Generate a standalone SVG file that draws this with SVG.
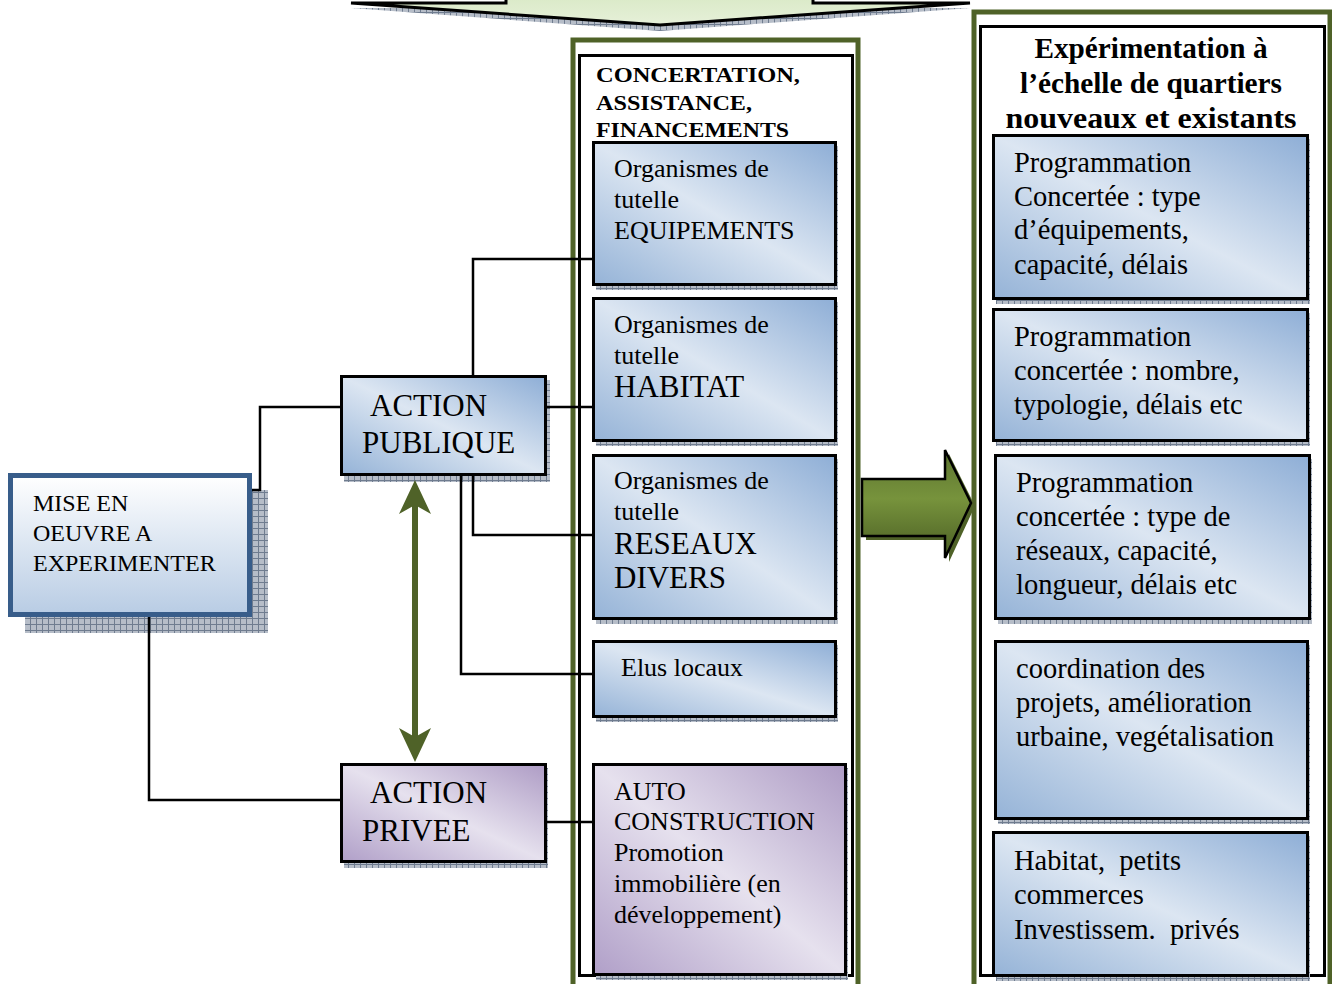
<svg xmlns="http://www.w3.org/2000/svg" width="1332" height="984" viewBox="0 0 1332 984">
<style>
text{font-family:"Liberation Serif","Times New Roman",serif;fill:#000}
.m{font-size:26px}
.b{font-size:31px}
.r{font-size:28.5px}
.mi{font-size:24px}
.h1{font-size:22px;font-weight:bold}
.h2{font-size:29px;font-weight:bold}
.box{stroke:#000;stroke-width:3}
.blue{fill:url(#gBlue)}
.purple{fill:url(#gPurple)}
.sh{fill:url(#hatch)}
.conn{fill:none;stroke:#000;stroke-width:2.5}
</style>
<defs>
<pattern id="hatch" width="6" height="6" patternUnits="userSpaceOnUse">
<rect width="6" height="6" fill="#b6bdc8"/>
<path d="M0,0.5H6M0.5,0V6" stroke="#6f7c8f" stroke-width="1"/>
</pattern>
<linearGradient id="gBlue" x1="1" y1="0" x2="0" y2="1">
<stop offset="0" stop-color="#8eaed6"/>
<stop offset="0.5" stop-color="#dce6f2"/>
<stop offset="1" stop-color="#95b3d7"/>
</linearGradient>
<linearGradient id="gPurple" x1="1" y1="0" x2="0" y2="1">
<stop offset="0" stop-color="#ae9cc5"/>
<stop offset="0.5" stop-color="#e6e1ee"/>
<stop offset="1" stop-color="#b09fc8"/>
</linearGradient>
<linearGradient id="gMise" x1="0" y1="0" x2="0" y2="1">
<stop offset="0" stop-color="#ffffff"/>
<stop offset="1" stop-color="#b8cce4"/>
</linearGradient>
<linearGradient id="gLight" x1="0" y1="0" x2="0" y2="1">
<stop offset="0" stop-color="#d3e6bd"/>
<stop offset="1" stop-color="#e6f0d9"/>
</linearGradient>
<linearGradient id="gDark" x1="0" y1="0" x2="0" y2="1">
<stop offset="0" stop-color="#5c7430"/>
<stop offset="0.45" stop-color="#77933c"/>
<stop offset="1" stop-color="#4a5e24"/>
</linearGradient>
<marker id="ga" markerUnits="userSpaceOnUse" markerWidth="34" markerHeight="34" viewBox="0 0 34 34" refX="25" refY="17" orient="auto-start-reverse">
<path d="M0,1 L34,17 L0,33 L9,17 Z" fill="#4f6228"/>
</marker>
</defs>

<g id="top-arrow">
<polygon points="506,-20 506,8 351,8 660,31 970,8 813,8 813,-20" class="sh"/>
<polygon points="506,-20 506,3 351,3 660,25 970,3 813,3 813,-20" fill="url(#gLight)" stroke="#000" stroke-width="3"/>
</g>

<g id="col-middle">
<rect x="573" y="40" width="285" height="960" fill="#fff" stroke="#4f6228" stroke-width="5"/>
<rect x="579.5" y="55.5" width="273" height="920" fill="none" stroke="#000" stroke-width="3"/>
<text class="h1" x="596" y="82" textLength="204" lengthAdjust="spacingAndGlyphs">CONCERTATION,</text>
<text class="h1" x="596" y="110" textLength="156" lengthAdjust="spacingAndGlyphs">ASSISTANCE,</text>
<text class="h1" x="596" y="137" textLength="193" lengthAdjust="spacingAndGlyphs">FINANCEMENTS</text>
</g>

<g id="col-right">
<rect x="974" y="12" width="356" height="990" fill="#fff" stroke="#4f6228" stroke-width="5"/>
<rect x="980.5" y="26.5" width="344" height="949" fill="none" stroke="#000" stroke-width="3"/>
<text class="h2" x="1151" y="58" text-anchor="middle" textLength="233" lengthAdjust="spacingAndGlyphs">Expérimentation à</text>
<text class="h2" x="1151" y="93" text-anchor="middle" textLength="262" lengthAdjust="spacingAndGlyphs">l’échelle de quartiers</text>
<text class="h2" x="1151" y="128" text-anchor="middle" textLength="291" lengthAdjust="spacingAndGlyphs">nouveaux et existants</text>
</g>

<g id="green-arrow">
<polygon points="866,483 949,483 949,454 975,506 949,562 949,540 866,540" fill="#4f6228"/>
<polygon points="862,479 945,479 945,450 971,503 945,558 945,536 862,536" fill="url(#gDark)" stroke="#000" stroke-width="2.5"/>
</g>

<g id="mise">
<rect x="25" y="490" width="243" height="143" class="sh"/>
<rect x="10.5" y="475.5" width="239" height="139" fill="url(#gMise)" stroke="#385d8a" stroke-width="5"/>
<text class="mi" x="33" y="511">MISE EN</text>
<text class="mi" x="33" y="541">OEUVRE A</text>
<text class="mi" x="33" y="571">EXPERIMENTER</text>
</g>

<g id="action-publique">
<rect x="344" y="380" width="206" height="102" class="sh"/>
<rect x="341.5" y="376.5" width="204" height="98" class="box blue"/>
<text class="b" x="370" y="416">ACTION</text>
<text class="b" x="362" y="453">PUBLIQUE</text>
</g>

<g id="action-privee">
<rect x="344" y="768" width="204" height="100" class="sh"/>
<rect x="341.5" y="764.5" width="204" height="97" class="box purple"/>
<text class="b" x="370" y="803">ACTION</text>
<text class="b" x="362" y="841">PRIVEE</text>
</g>

<g id="equipements">
<rect x="596" y="146" width="242" height="144" class="sh"/>
<rect x="593.5" y="142.5" width="242" height="142" class="box blue"/>
<text class="m" x="614" y="177">Organismes de</text>
<text class="m" x="614" y="208">tutelle</text>
<text class="m" x="614" y="239">EQUIPEMENTS</text>
</g>

<g id="habitat">
<rect x="596" y="302" width="242" height="144" class="sh"/>
<rect x="593.5" y="298.5" width="242" height="142" class="box blue"/>
<text class="m" x="614" y="333">Organismes de</text>
<text class="m" x="614" y="364">tutelle</text>
<text class="b" x="614" y="397">HABITAT</text>
</g>

<g id="reseaux">
<rect x="596" y="459" width="242" height="165" class="sh"/>
<rect x="593.5" y="455.5" width="242" height="163" class="box blue"/>
<text class="m" x="614" y="489">Organismes de</text>
<text class="m" x="614" y="520">tutelle</text>
<text class="b" x="614" y="554">RESEAUX</text>
<text class="b" x="614" y="588">DIVERS</text>
</g>

<g id="elus">
<rect x="596" y="645" width="242" height="77" class="sh"/>
<rect x="593.5" y="641.5" width="242" height="75" class="box blue"/>
<text class="m" x="621" y="676">Elus locaux</text>
</g>

<g id="auto">
<rect x="596" y="768" width="252" height="212" class="sh"/>
<rect x="593.5" y="764.5" width="252" height="210" class="box purple"/>
<text class="m" x="614" y="800">AUTO</text>
<text class="m" x="614" y="830">CONSTRUCTION</text>
<text class="m" x="614" y="861">Promotion</text>
<text class="m" x="614" y="892">immobilière (en</text>
<text class="m" x="614" y="923">développement)</text>
</g>

<g id="prog-equip">
<rect x="996" y="139" width="314" height="165" class="sh"/>
<rect x="993.5" y="135.5" width="314" height="163" class="box blue"/>
<text class="r" x="1014" y="172">Programmation</text>
<text class="r" x="1014" y="206">Concertée : type</text>
<text class="r" x="1014" y="239">d’équipements,</text>
<text class="r" x="1014" y="274">capacité, délais</text>
</g>

<g id="prog-habitat">
<rect x="996" y="313" width="314" height="133" class="sh"/>
<rect x="993.5" y="309.5" width="314" height="131" class="box blue"/>
<text class="r" x="1014" y="346">Programmation</text>
<text class="r" x="1014" y="380">concertée : nombre,</text>
<text class="r" x="1014" y="414">typologie, délais etc</text>
</g>

<g id="prog-reseaux">
<rect x="998" y="459" width="314" height="165" class="sh"/>
<rect x="995.5" y="455.5" width="314" height="163" class="box blue"/>
<text class="r" x="1016" y="492">Programmation</text>
<text class="r" x="1016" y="526">concertée : type de</text>
<text class="r" x="1016" y="560">réseaux, capacité,</text>
<text class="r" x="1016" y="594">longueur, délais etc</text>
</g>

<g id="coordination">
<rect x="998" y="645" width="312" height="179" class="sh"/>
<rect x="995.5" y="641.5" width="312" height="177" class="box blue"/>
<text class="r" x="1016" y="678">coordination des</text>
<text class="r" x="1016" y="712">projets, amélioration</text>
<text class="r" x="1016" y="746">urbaine, vegétalisation</text>
</g>

<g id="habitat-prive">
<rect x="996" y="836" width="314" height="145" class="sh"/>
<rect x="993.5" y="832.5" width="314" height="143" class="box blue"/>
<text class="r" x="1014" y="870" xml:space="preserve">Habitat,  petits</text>
<text class="r" x="1014" y="904">commerces</text>
<text class="r" x="1014" y="939" xml:space="preserve">Investissem.  privés</text>
</g>

<g id="connectors">
<polyline class="conn" points="252,490 260,490 260,407 340,407"/>
<polyline class="conn" points="149,617 149,800 340,800"/>
<polyline class="conn" points="473,375 473,259 592,259"/>
<polyline class="conn" points="547,407 592,407"/>
<polyline class="conn" points="473,476 473,535 592,535"/>
<polyline class="conn" points="461,476 461,674 592,674"/>
<polyline class="conn" points="547,822 592,822"/>
<line x1="415" y1="489" x2="415" y2="753" stroke="#4f6228" stroke-width="6" marker-start="url(#ga)" marker-end="url(#ga)"/>
</g>
</svg>
